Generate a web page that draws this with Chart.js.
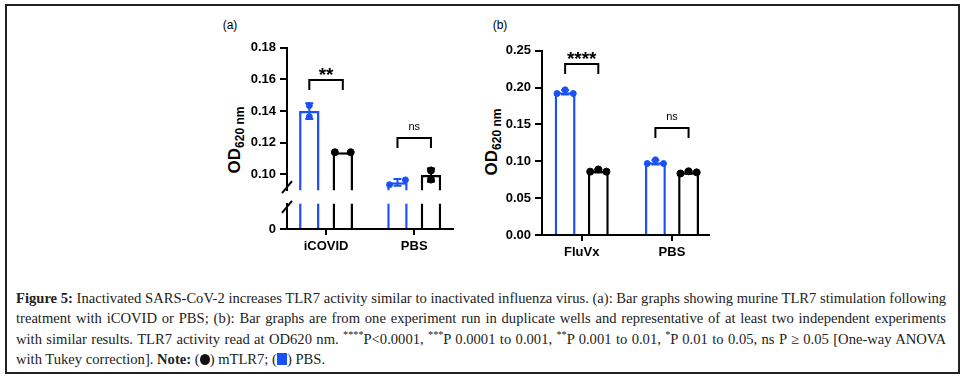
<!DOCTYPE html>
<html><head><meta charset="utf-8">
<script src="https://cdn.jsdelivr.net/npm/chart.js@4.4.0/dist/chart.umd.min.js"></script>
<style>
body{margin:0;background:#fff;}
#wrap{position:relative;width:964px;height:382px;overflow:hidden;font-family:"Liberation Sans",Arial,sans-serif;color:#000;}
#frame{position:absolute;left:5px;top:4px;width:955px;height:370px;border:2px solid #222;box-sizing:border-box;}
.cv{position:absolute;}
.plabel{position:absolute;font-size:12px;transform:translate(-50%,-50%);}
.yt{position:absolute;transform:translate(-50%,-50%) rotate(-90deg);white-space:nowrap;font-weight:bold;font-size:17px;}
.yt .sub{font-size:12px;position:relative;top:4px;}
#cap{position:absolute;left:16px;top:288px;width:930px;font-family:"Liberation Serif","Times New Roman",serif;font-size:14.6px;line-height:20.4px;color:#222;}
#cap .ln{text-align:justify;text-align-last:justify;white-space:nowrap;}
#cap .last{text-align:left;text-align-last:left;}
#cap sup{font-size:70%;line-height:0;}
.sq{display:inline-block;width:10px;height:12px;background:#1a50f5;vertical-align:-1px;}
.dot{display:inline-block;width:10px;height:11px;border-radius:50%;background:#111;vertical-align:-1px;}
</style>
</head><body>
<div id="wrap">
  <div id="frame"></div>
  <div class="plabel" style="left:230px;top:25px">(a)</div>
  <div class="plabel" style="left:500px;top:25px">(b)</div>
  <div class="yt" style="left:235px;top:140px">OD<span class="sub">620 nm</span></div>
  <div class="yt" style="left:492px;top:142px">OD<span class="sub">620 nm</span></div>
  <canvas id="aUp" class="cv" width="263" height="166" style="left:200px;top:36px"></canvas>
  <canvas id="aLo" class="cv" width="263" height="67" style="left:200px;top:192px"></canvas>
  <canvas id="b" class="cv" width="264" height="226" style="left:455px;top:39px"></canvas>
  <div id="cap">
    <div class="ln"><b>Figure 5:</b> Inactivated SARS-CoV-2 increases TLR7 activity similar to inactivated influenza virus. (a): Bar graphs showing murine TLR7 stimulation following</div>
    <div class="ln">treatment with iCOVID or PBS; (b): Bar graphs are from one experiment run in duplicate wells and representative of at least two independent experiments</div>
    <div class="ln">with similar results. TLR7 activity read at OD620 nm. <sup>****</sup>P&lt;0.0001, <sup>***</sup>P 0.0001 to 0.001, <sup>**</sup>P 0.001 to 0.01, <sup>*</sup>P 0.01 to 0.05, ns P ≥ 0.05 [One-way ANOVA</div>
    <div class="ln last">with Tukey correction]. <b>Note:</b> (<span class="dot"></span>) mTLR7; (<span class="sq"></span>) PBS.</div>
  </div>
</div>
<script>
// ---------- data ----------
const catsA = ['iCOVID', 'PBS'];
const pbsA = [[0.1435, 0.1365], [0.0935, 0.0965]];      // blue replicates
const tlrA = [[0.114, 0.114], [0.1025, 0.0967]];        // black replicates
const ticksAUpper = [0.10, 0.12, 0.14, 0.16, 0.18];
const ticksALower = [0];
const sigA = ['**', 'ns'];
const sigLevelA = [0.1595, 0.123];

const catsB = ['FluVx', 'PBS'];
const pbsB = [[0.192, 0.197, 0.192], [0.097, 0.102, 0.097]];
const tlrB = [[0.086, 0.089, 0.086], [0.0835, 0.0865, 0.085]];
const ticksB = [0, 0.05, 0.10, 0.15, 0.20, 0.25];
const sigB = ['****', 'ns'];
const sigLevelB = [0.232, 0.1456];

// ---------- style ----------
const BLUE = '#1a50f5', BLACK = '#000';
const spreadUnit = 0.09;
const spreadA = {pbs: [[0, 0], [-1, 1]], tlr: [[-1, 1], [0, 0]]};
const spreadB = {pbs: [[-1, 0, 1], [-1, 0, 1]], tlr: [[-1, 0, 1], [-1, 0, 1]]};

const mean = v => v.reduce((a, b) => a + b, 0) / v.length;
const sd = v => { const m = mean(v); return v.length < 2 ? 0 : Math.sqrt(v.reduce((a, b) => a + (b - m) * (b - m), 0) / (v.length - 1)); };

const tickFont = {family: 'Liberation Sans', size: 13, weight: 'bold'};

const extras = {
  id: 'extras',
  afterDatasetsDraw(chart, args, o) {
    const ctx = chart.ctx, ys = chart.scales.y, ca = chart.chartArea;
    ctx.save();
    ctx.lineWidth = 2; ctx.lineCap = 'butt';
    if (o.reps) {
      o.reps.forEach((series, si) => {
        const meta = chart.getDatasetMeta(si);
        series.forEach((vals, j) => {
          const m = mean(vals), s = sd(vals);
          if (s <= 0) return;
          const x = meta.data[j].x;
          const y1 = ys.getPixelForValue(m - s), y2 = ys.getPixelForValue(m + s);
          ctx.strokeStyle = o.colors[si];
          ctx.beginPath();
          ctx.moveTo(x, y1); ctx.lineTo(x, y2);
          ctx.moveTo(x - 4, y1); ctx.lineTo(x + 4, y1);
          ctx.moveTo(x - 4, y2); ctx.lineTo(x + 4, y2);
          ctx.stroke();
        });
      });
    }
    if (o.sig) {
      const m0 = chart.getDatasetMeta(0), m1 = chart.getDatasetMeta(1);
      o.sig.forEach((lab, j) => {
        const x1 = m0.data[j].x, x2 = m1.data[j].x;
        const yb = Math.round(ys.getPixelForValue(o.levels[j]));
        ctx.strokeStyle = '#000';
        ctx.beginPath();
        ctx.moveTo(x1, yb + 10); ctx.lineTo(x1, yb); ctx.lineTo(x2, yb); ctx.lineTo(x2, yb + 10);
        ctx.stroke();
        ctx.fillStyle = '#000';
        ctx.textAlign = 'center';
        ctx.textBaseline = 'alphabetic';
        if (lab === 'ns') {
          ctx.font = '11px "Liberation Sans"';
          ctx.fillText(lab, (x1 + x2) / 2, yb - 8);
        } else {
          ctx.font = 'bold 19px "Liberation Sans"';
          ctx.fillText(lab, (x1 + x2) / 2, yb + 1);
        }
      });
    }
    if (o.breakMark) {
      const cx = ca.left;
      const cy = o.breakMark === 'bottom' ? ca.bottom - 3 : ca.top + 3;
      ctx.strokeStyle = '#000';
      ctx.beginPath();
      ctx.moveTo(cx - 5, cy + 6); ctx.lineTo(cx + 5, cy - 6);
      ctx.stroke();
    }
    ctx.restore();
  }
};

function barDS(reps, color, catPct, barPct) {
  return {type: 'bar', data: reps.map((v, i) => ({x: i, y: mean(v)})),
    backgroundColor: '#fff', borderColor: color, borderWidth: 2.5, borderSkipped: 'start',
    categoryPercentage: catPct, barPercentage: barPct, order: 2, clip: 0};
}
function ptsDS(reps, color, side, catPct, spread, r) {
  const pts = [];
  reps.forEach((v, i) => v.forEach((y, k) => pts.push({x: i + side * catPct / 4 + spread[i][k] * spreadUnit, y})));
  return {type: 'scatter', data: pts, backgroundColor: color, borderColor: color, pointRadius: r, pointBorderWidth: 1, order: 1};
}
function yScale(min, max, ticks, fmt) {
  return {type: 'linear', min, max, offset: false,
    afterBuildTicks: s => { s.ticks = ticks.map(v => ({value: v})); },
    afterFit: s => { s.width = 87; },
    ticks: {font: tickFont, color: '#000', padding: 4, callback: fmt},
    grid: {display: true, drawOnChartArea: false, drawTicks: true, tickLength: 7, color: '#000', lineWidth: 2},
    border: {display: true, color: '#000', width: 2}};
}
function xScale(min, max, cats, show) {
  return {type: 'linear', min, max, offset: false, display: show,
    afterBuildTicks: s => { s.ticks = cats.map((c, i) => ({value: i})); },
    afterFit: s => { s.height = show ? 30 : 0; },
    ticks: {font: tickFont, color: '#000', padding: 4, callback: v => cats[v]},
    grid: {display: true, offset: false, drawOnChartArea: false, drawTicks: true, tickLength: 6, color: '#000', lineWidth: 2},
    border: {display: true, color: '#000', width: 2}};
}
const base = {responsive: false, animation: false, events: [], devicePixelRatio: 1};
const fmt2 = v => Number(v).toFixed(2);

const catPctA = 0.76, barPctA = 0.61;
new Chart(document.getElementById('aUp'), {
  type: 'bar',
  data: {datasets: [
    barDS(pbsA, BLUE, catPctA, barPctA), barDS(tlrA, BLACK, catPctA, barPctA),
    ptsDS(pbsA, BLUE, -1, catPctA, spreadA.pbs, 3), ptsDS(tlrA, BLACK, 1, catPctA, spreadA.tlr, 3.5)]},
  options: Object.assign({}, base, {
    layout: {padding: {top: 10, bottom: 10, left: 0, right: 10}},
    plugins: {legend: {display: false}, tooltip: {enabled: false},
      extras: {reps: [pbsA, tlrA], colors: [BLUE, BLACK], sig: sigA, levels: sigLevelA, breakMark: 'bottom'}},
    scales: {x: xScale(-0.443, 1.44, catsA, false), y: yScale(0.09, 0.18, ticksAUpper, fmt2)}
  }),
  plugins: [extras]
});
new Chart(document.getElementById('aLo'), {
  type: 'bar',
  data: {datasets: [barDS(pbsA, BLUE, catPctA, barPctA), barDS(tlrA, BLACK, catPctA, barPctA)]},
  options: Object.assign({}, base, {
    layout: {padding: {top: 10, bottom: 0, left: 0, right: 10}},
    plugins: {legend: {display: false}, tooltip: {enabled: false}, extras: {breakMark: 'top'}},
    scales: {x: xScale(-0.443, 1.44, catsA, true), y: yScale(0, 0.01, ticksALower, v => String(v))}
  }),
  plugins: [extras]
});
const catPctB = 0.735, barPctB = 0.63;
new Chart(document.getElementById('b'), {
  type: 'bar',
  data: {datasets: [
    barDS(pbsB, BLUE, catPctB, barPctB), barDS(tlrB, BLACK, catPctB, barPctB),
    ptsDS(pbsB, BLUE, -1, catPctB, spreadB.pbs, 3), ptsDS(tlrB, BLACK, 1, catPctB, spreadB.tlr, 3.5)]},
  options: Object.assign({}, base, {
    layout: {padding: {top: 10, bottom: 0, left: 0, right: 10}},
    plugins: {legend: {display: false}, tooltip: {enabled: false},
      extras: {reps: [pbsB, tlrB], colors: [BLUE, BLACK], sig: sigB, levels: sigLevelB}},
    scales: {x: xScale(-0.44, 1.41, catsB, true), y: yScale(0, 0.25, ticksB, fmt2)}
  }),
  plugins: [extras]
});
</script>
</body></html>
